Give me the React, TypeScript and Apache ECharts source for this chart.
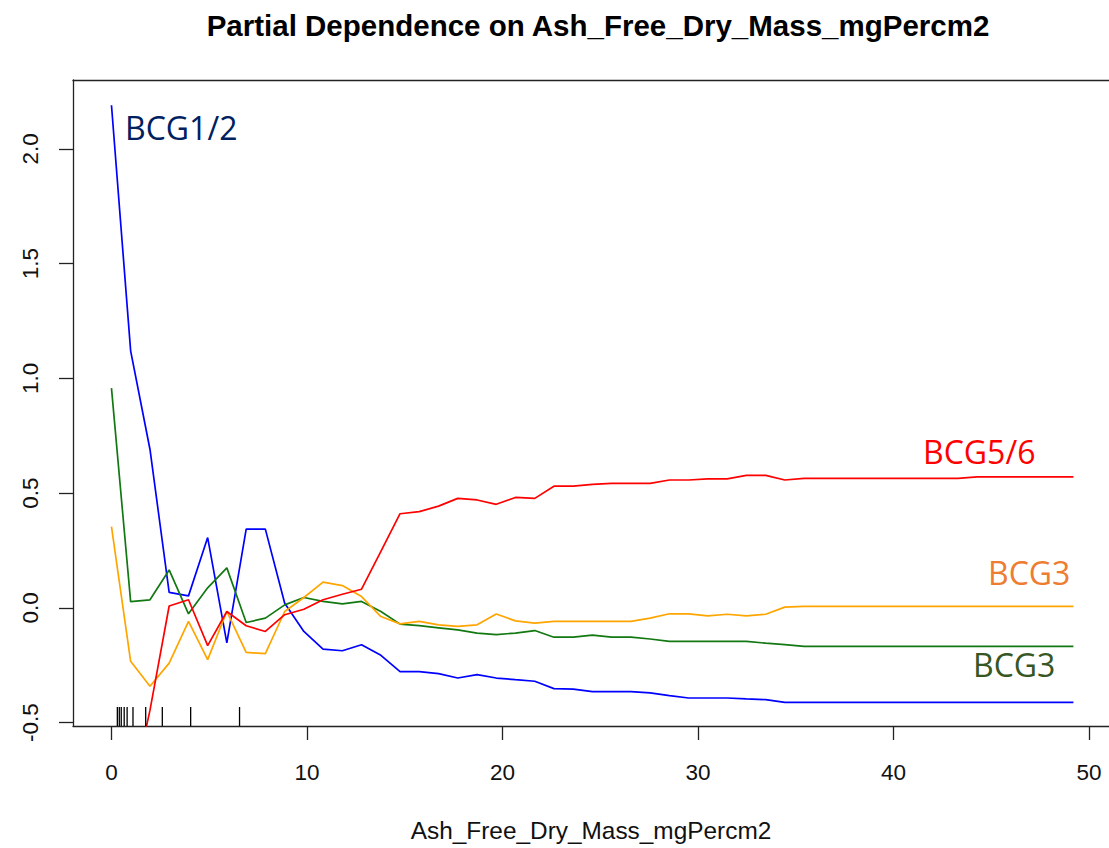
import React, { useEffect, useRef } from "react";
import * as echarts from "echarts";

const xGrid = [0, 0.98, 1.97, 2.95, 3.94, 4.92, 5.9, 6.89, 7.87, 8.86, 9.84, 10.82, 11.81, 12.79, 13.78, 14.76, 15.74, 16.73, 17.71, 18.7, 19.68, 20.66, 21.65, 22.63, 23.62, 24.6, 25.58, 26.57, 27.55, 28.54, 29.52, 30.5, 31.49, 32.47, 33.46, 34.44, 35.42, 36.41, 37.39, 38.38, 39.36, 40.34, 41.33, 42.31, 43.3, 44.28, 45.26, 46.25, 47.23, 48.22, 49.2];

const bcg12 = [2.19, 1.12, 0.69, 0.067, 0.052, 0.306, -0.153, 0.343, 0.343, 0.02, -0.103, -0.18, -0.187, -0.161, -0.207, -0.278, -0.278, -0.287, -0.306, -0.291, -0.306, -0.313, -0.32, -0.352, -0.354, -0.365, -0.365, -0.365, -0.371, -0.383, -0.393, -0.393, -0.393, -0.397, -0.4, -0.412, -0.412, -0.412, -0.412, -0.412, -0.412, -0.412, -0.412, -0.412, -0.412, -0.412, -0.412, -0.412, -0.412, -0.412, -0.412];

const bcg3Green = [0.957, 0.027, 0.035, 0.165, -0.026, 0.087, 0.174, -0.064, -0.045, 0.013, 0.045, 0.028, 0.017, 0.028, -0.016, -0.071, -0.078, -0.087, -0.096, -0.11, -0.117, -0.11, -0.099, -0.128, -0.128, -0.119, -0.128, -0.128, -0.136, -0.146, -0.146, -0.146, -0.146, -0.146, -0.154, -0.16, -0.168, -0.168, -0.168, -0.168, -0.168, -0.168, -0.168, -0.168, -0.168, -0.168, -0.168, -0.168, -0.168, -0.168, -0.168];

const bcg3Orange = [0.354, -0.233, -0.342, -0.241, -0.059, -0.226, -0.016, -0.194, -0.2, -0.016, 0.045, 0.112, 0.097, 0.049, -0.038, -0.07, -0.059, -0.074, -0.081, -0.074, -0.027, -0.057, -0.067, -0.059, -0.059, -0.059, -0.059, -0.059, -0.045, -0.026, -0.026, -0.035, -0.028, -0.035, -0.028, 0.003, 0.006, 0.006, 0.006, 0.006, 0.006, 0.006, 0.006, 0.006, 0.006, 0.006, 0.006, 0.006, 0.006, 0.006, 0.006];

const bcg56 = [-1.0, -0.835, -0.446, 0.008, 0.035, -0.165, -0.016, -0.078, -0.103, -0.03, -0.006, 0.035, 0.059, 0.081, 0.246, 0.41, 0.419, 0.443, 0.477, 0.47, 0.451, 0.481, 0.477, 0.53, 0.53, 0.538, 0.542, 0.542, 0.542, 0.557, 0.557, 0.562, 0.562, 0.577, 0.577, 0.557, 0.564, 0.564, 0.564, 0.564, 0.564, 0.564, 0.564, 0.564, 0.564, 0.571, 0.571, 0.571, 0.571, 0.571, 0.571];

const rugValues = [0.3, 0.4, 0.5, 0.65, 0.8, 1.1, 1.75, 2.6, 4.05, 6.55];

const xTicks = [0, 10, 20, 30, 40, 50];
const yTicks = [-0.5, 0, 0.5, 1, 1.5, 2];

const X_MIN = -1.968;
const X_MAX = 51.02;
const Y_MIN = -0.515;
const Y_MAX = 2.3;

const rFont = "'Liberation Sans', Arial, sans-serif";
const annFont = "'Open Sans', 'Noto Sans', sans-serif";

const pairs = (ys: number[]) => xGrid.map((x, i) => [x, ys[i]]);

export default function App() {
  const ref = useRef<HTMLDivElement>(null);
  useEffect(() => {
    if (!ref.current) return;
    const chart = echarts.init(ref.current, null, { renderer: "svg" });
    const lineSeries = (name: string, data: number[], color: string) => ({
      type: "line",
      name,
      data: pairs(data),
      showSymbol: false,
      symbol: "none",
      clip: true,
      lineStyle: { color, width: 1.7 },
      z: 3,
    });
    const boxLine = { show: true, onZero: false, lineStyle: { color: "#222", width: 1.3 } };
    chart.setOption({
      animation: false,
      backgroundColor: "#ffffff",
      title: {
        text: "Partial Dependence on Ash_Free_Dry_Mass_mgPercm2",
        left: 593,
        top: 5,
        textAlign: "center",
        textStyle: { fontFamily: rFont, fontWeight: "bold", fontSize: 29.5, color: "#000" },
      },
      grid: {
        left: 73,
        top: 80,
        right: 0,
        bottom: 122,
        show: false,
      },
      xAxis: [
        {
          type: "value",
          position: "bottom",
          min: X_MIN,
          max: X_MAX,
          splitLine: { show: false },
          axisLine: boxLine,
          axisTick: { show: true, customValues: xTicks, length: 14, inside: false, lineStyle: { color: "#222", width: 1.3 } },
          axisLabel: { customValues: xTicks, margin: 35, fontFamily: rFont, fontSize: 22.5, color: "#111" },
          name: "Ash_Free_Dry_Mass_mgPercm2",
          nameLocation: "middle",
          nameGap: 92,
          nameTextStyle: { fontFamily: rFont, fontSize: 24.4, color: "#111" },
        },
        {
          type: "value",
          position: "top",
          min: X_MIN,
          max: X_MAX,
          splitLine: { show: false },
          axisLine: boxLine,
          axisTick: { show: false },
          axisLabel: { show: false },
        },
      ],
      yAxis: {
        type: "value",
        min: Y_MIN,
        max: Y_MAX,
        splitLine: { show: false },
        axisLine: boxLine,
        axisTick: { show: true, customValues: yTicks, length: 14, inside: false, lineStyle: { color: "#222", width: 1.3 } },
        axisLabel: {
          customValues: yTicks,
          rotate: 90,
          margin: 31,
          fontFamily: rFont,
          fontSize: 22.5,
          color: "#111",
          formatter: (v: number) => v.toFixed(1),
        },
      },
      series: [
        lineSeries("BCG1/2", bcg12, "#0000FF"),
        lineSeries("BCG3 (green)", bcg3Green, "#127812"),
        lineSeries("BCG3 (orange)", bcg3Orange, "#FFA500"),
        lineSeries("BCG5/6", bcg56, "#FF0000"),
        {
          type: "custom",
          name: "rug",
          data: rugValues.map((v) => [v]),
          encode: { x: 0 },
          z: 4,
          renderItem: (params: any, api: any) => {
            const p = api.coord([api.value(0), Y_MIN]);
            return {
              type: "line",
              shape: { x1: p[0], y1: p[1], x2: p[0], y2: p[1] - 19 },
              style: { stroke: "#000", lineWidth: 1.3 },
            };
          },
        },
      ],
      graphic: [
        { type: "text", left: 125, top: 127.5 - 16, style: { text: "BCG1/2", fill: "#002060", font: `32px ${annFont}` } },
        { type: "text", left: 923, top: 451.5 - 16, style: { text: "BCG5/6", fill: "#FF0000", font: `32px ${annFont}` } },
        { type: "text", left: 988, top: 572.5 - 16, style: { text: "BCG3", fill: "#ED7D31", font: `32px ${annFont}` } },
        { type: "text", left: 973, top: 664 - 16, style: { text: "BCG3", fill: "#375623", font: `32px ${annFont}` } },
      ],
    });
    return () => chart.dispose();
  }, []);
  return <div ref={ref} style={{ position: "absolute", left: 0, top: 0, width: 1109, height: 848 }} />;
}
